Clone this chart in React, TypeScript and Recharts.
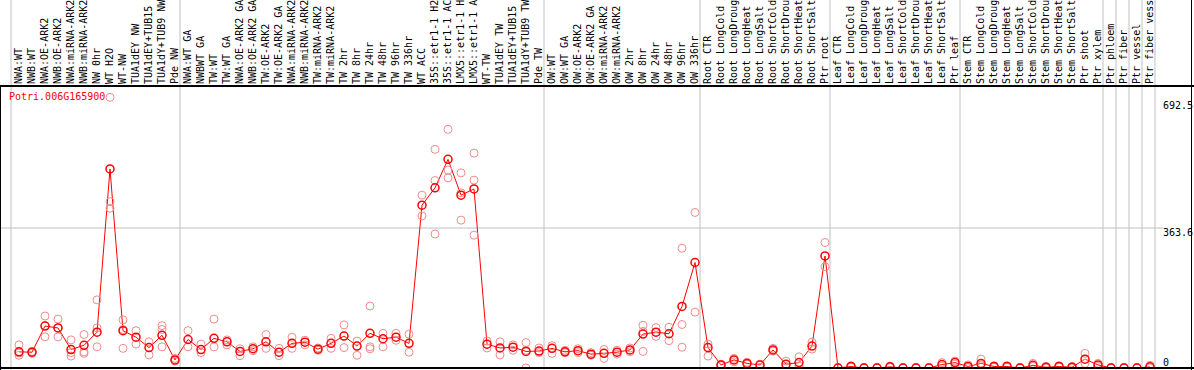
import React from "react";
import { ComposedChart, Line, XAxis, YAxis, ReferenceLine } from "recharts";

const categories = [
  "NWA:WT", "NWB:WT", "NWA:OE-ARK2", "NWB:OE-ARK2", "NWA:miRNA-ARK2", "NWB:miRNA-ARK2",
  "NW 0hr", "WT H2O", "WT-NW", "TUA1dEY NW", "TUA1dEY+TUB15 NW", "TUA1dY+TUB9 NW", "Pde NW",
  "NWA:WT GA", "NWBWT GA", "TW:WT", "TW:WT GA", "NWA:OE-ARK2 GA", "NWB:OE-ARK2 GA",
  "TW:OE-ARK2", "TW:OE-ARK2 GA", "NWA:miRNA-ARK2", "NWB:miRNA-ARK2", "TW:miRNA-ARK2",
  "TW:miRNA-ARK2", "TW 2hr", "TW 8hr", "TW 24hr", "TW 48hr", "TW 96hr", "TW 336hr", "WT ACC",
  "35S::etr1-1 H2O", "35S::etr1-1 ACC", "LMX5::etr1-1 H2O", "LMX5::etr1-1 ACC", "WT-TW",
  "TUA1dEY TW", "TUA1dEY+TUB15 TW", "TUA1dY+TUB9 TW", "Pde TW",
  "OW:WT", "OW:WT GA", "OW:OE-ARK2", "OW:OE-ARK2 GA", "OW:miRNA-ARK2", "OW:miRNA-ARK2",
  "OW 2hr", "OW 8hr", "OW 24hr", "OW 48hr", "OW 96hr", "OW 336hr",
  "Root CTR", "Root LongCold", "Root LongDrought", "Root LongHeat", "Root LongSalt",
  "Root ShortCold", "Root ShortDrought", "Root ShortHeat", "Root ShortSalt", "Ptr root",
  "Leaf CTR", "Leaf LongCold", "Leaf LongDrought", "Leaf LongHeat", "Leaf LongSalt",
  "Leaf ShortCold", "Leaf ShortDrought", "Leaf ShortHeat", "Leaf ShortSalt", "Ptr leaf",
  "Stem CTR", "Stem LongCold", "Stem LongDrought", "Stem LongHeat", "Stem LongSalt",
  "Stem ShortCold", "Stem ShortDrought", "Stem ShortHeat", "Stem ShortSalt", "Ptr shoot",
  "Ptr xylem", "Ptr phloem", "Ptr fiber", "Ptr vessel", "Ptr fiber vessel",
];

// number of samples in each block, separated by grey lines
const groupSizes = [13, 28, 12, 10, 10, 11, 1, 1, 1, 1];

const meanValues = [
  42, 41, 109, 104, 48, 59, 93, 517, 97, 80, 53, 85, 21,
  74, 48, 77, 68, 43, 50, 68, 41, 64, 67, 49, 64, 83, 57, 90, 76, 80, 64,
  423, 468, 542, 449, 465, 62, 52, 54, 43, 44,
  51, 42, 45, 36, 38, 41, 47, 88, 93, 89, 160, 274,
  53, 8, 21, 12, 8, 47, 10, 14, 57, 291,
  0, 4, 0, 0, 3, 0, 0, 0, 9, 14,
  4, 12, 4, 4, 0, 7, 2, 4, 2, 23, 8,
  0, 0, 0, 3,
];

const rep1 = [
  60, 43, 135, 127, 73, 87, 177, 703, 125, 97, 68, 110, 25,
  97, 62, 127, 73, 50, 55, 87, 51, 80, 72, 52, 77, 112, 70, 161, 90, 90, 88,
  449, 568, 620, 507, 558, 70, 68, 60, 66, 52,
  58, 46, 50, 40, 48, 46, 52, 111, 105, 106, 311, 404,
  62, 10, 25, 15, 10, 51, 18, 29, 67, 326,
  2, 6, 2, 2, 5, 2, 2, 2, 14, 18,
  8, 23, 6, 6, 2, 12, 4, 6, 4, 38, 12,
  2, 2, 2, 7,
];

const rep2 = [
  39, 38, 81, 81, 40, 42, 104, 432, 51, 62, 34, 100, 18,
  55, 40, 55, 60, 32, 45, 51, 32, 51, 60, 46, 51, 53, 33, 55, 55, 72, 41,
  395, 487, 514, 455, 488, 52, 34, 46, 0, 40,
  38, 40, 40, 33, 25, 36, 42, 43, 82, 71, 113, 145,
  31, 6, 16, 10, 2, 44, 4, 5, 49, 263,
  0, 2, 0, 0, 1, 0, 0, 0, 5, 10,
  1, 8, 2, 2, 0, 4, 0, 2, 0, 12, 4,
  0, 0, 0, 0,
];

const rep3 = [
  33, null, 110, 104, 31, 38, 55, 415, 100, null, null, 55, null,
  null, null, null, null, null, null, null, null, null, null, null, null, null, null, 50, null, null, null,
  null, 348, 494, 384, 345, null, null, null, 46, null,
  null, null, null, null, null, null, null, 95, null, null, 54, null,
  null, null, null, null, null, null, null, null, null, null,
  null, null, null, null, null, null, null, null, null, null,
  null, null, null, null, null, null, null, null, null, null, null,
  null, null, null, null,
];

const yTicks = [0, 363.6, 692.5];
const seriesName = "Potri.006G165900";

const W = 1194;
const H = 370;
const LABEL_H = 86;
const AXIS_W = 31;
const STEP = 13;
const FIRST_X = 19;
const FONT = "'DejaVu Sans Mono', monospace";

const rows = categories.map((name, i) => ({
  i,
  name,
  mean: meanValues[i],
  r1: rep1[i],
  r2: rep2[i],
  r3: rep3[i],
}));

const separators: number[] = [0];
groupSizes.forEach((n) => separators.push(separators[separators.length - 1] + n));

const XTick = (props: any) => {
  const { x, payload } = props;
  return (
    <text
      transform={`translate(${x + 3},84) rotate(-90)`}
      fontFamily={FONT}
      fontSize={10}
      fill="#000"
    >
      {categories[payload.value]}
    </text>
  );
};

const YTick = (props: any) => {
  const { y, payload } = props;
  return (
    <text x={W - AXIS_W} y={Math.min(y + 8, 366)} fontFamily={FONT} fontSize={10} fill="#000">
      {payload.value}
    </text>
  );
};

const repDot = { r: 4, stroke: "#f08c8c", strokeWidth: 1, fill: "none" };

export default function App() {
  const plotW = W - AXIS_W;
  return (
    <div
      style={{
        position: "absolute",
        left: 0,
        top: 0,
        width: W,
        height: H,
        background: "#fff",
        overflow: "hidden",
      }}
    >
      <ComposedChart width={W} height={H} data={rows} margin={{ top: 0, right: 0, bottom: 2, left: 0 }}>
        <XAxis
          dataKey="i"
          type="number"
          orientation="top"
          height={LABEL_H}
          domain={[-FIRST_X / STEP, (plotW - FIRST_X) / STEP]}
          allowDataOverflow
          ticks={categories.map((_, i) => i)}
          interval={0}
          tick={<XTick />}
          tickLine={false}
          axisLine={false}
        />
        <YAxis
          orientation="right"
          type="number"
          width={AXIS_W}
          domain={[0, 732.5]}
          allowDataOverflow
          ticks={yTicks}
          interval={0}
          tick={<YTick />}
          tickLine={false}
          axisLine={false}
        />
        <ReferenceLine y={363.6} stroke="#c0c0c0" strokeWidth={1} />
        {separators.map((k) => (
          <ReferenceLine
            key={k}
            x={k - 8 / STEP}
            shape={(p: any) => <line x1={p.x1} x2={p.x2} y1={0} y2={H} stroke="#c0c0c0" strokeWidth={1} />}
          />
        ))}
        <Line dataKey="r1" stroke="none" dot={repDot} activeDot={false} isAnimationActive={false} />
        <Line dataKey="r2" stroke="none" dot={repDot} activeDot={false} isAnimationActive={false} />
        <Line dataKey="r3" stroke="none" dot={repDot} activeDot={false} isAnimationActive={false} />
        <Line
          dataKey="mean"
          name={seriesName}
          stroke="#ff0000"
          strokeWidth={1}
          dot={{ r: 4, stroke: "#ff0000", strokeWidth: 1.5, fill: "none" }}
          activeDot={false}
          isAnimationActive={false}
        />
      </ComposedChart>
      {/* frame */}
      <div style={{ position: "absolute", left: 0, top: 85, width: W, height: 2, background: "#000" }} />
      <div style={{ position: "absolute", left: 0, top: 367, width: W, height: 2, background: "#000" }} />
      <div style={{ position: "absolute", left: 0, top: 86, width: 1, height: H - 86, background: "#000" }} />
      <div style={{ position: "absolute", left: 1191, top: 0, width: 1, height: H, background: "#000" }} />
      <div
        style={{
          position: "absolute",
          left: 9,
          top: 91,
          fontFamily: FONT,
          fontSize: 10,
          lineHeight: "12px",
          color: "#ff0000",
        }}
      >
        {seriesName}
      </div>
    </div>
  );
}
